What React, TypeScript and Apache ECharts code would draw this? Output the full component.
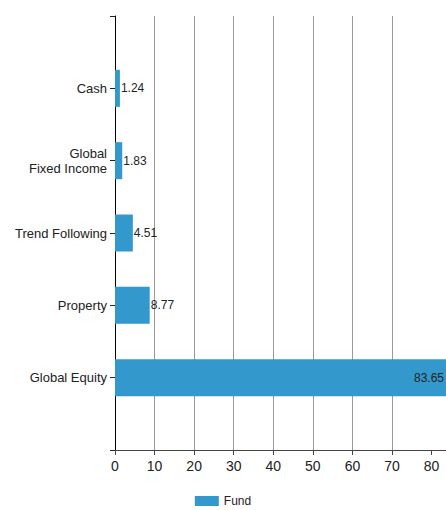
import React, { useEffect, useRef } from "react";
import * as echarts from "echarts";

const categories = ["", "Global Equity", "Property", "Trend Following", "Global\nFixed Income", "Cash", ""];
const fundValues: (number | string)[] = ["-", 83.65, 8.77, 4.51, 1.83, 1.24, "-"];
const xTicks = [0, 10, 20, 30, 40, 50, 60, 70, 80];
const seriesName = "Fund";

const FONT = "'Liberation Sans', Arial, sans-serif";

export default function App() {
  const ref = useRef<HTMLDivElement>(null);
  useEffect(() => {
    if (!ref.current) return;
    const chart = echarts.init(ref.current, undefined, { renderer: "svg" });
    const maxVal = Math.max(...(fundValues.filter((v) => typeof v === "number") as number[]));
    chart.setOption({
      animation: false,
      textStyle: { fontFamily: FONT },
      grid: { left: 115, right: 0, top: 16, bottom: 60, containLabel: false },
      legend: {
        data: [seriesName],
        left: "center",
        top: 494,
        padding: 0,
        itemWidth: 24,
        itemHeight: 10,
        itemGap: 10,
        icon: "rect",
        textStyle: { fontSize: 12, lineHeight: 14, color: "#222", fontFamily: FONT },
      },
      xAxis: {
        type: "value",
        min: 0,
        max: maxVal,
        interval: 10,
        axisLine: { show: true, lineStyle: { color: "#444", width: 1 } },
        axisTick: { show: true, length: 5, lineStyle: { color: "#444" }, customValues: xTicks },
        axisLabel: { fontSize: 14, color: "#222", margin: 9, fontFamily: FONT, customValues: xTicks },
        splitLine: { show: true, showMinLine: false, showMaxLine: false, lineStyle: { color: "#999", width: 1 } },
      },
      yAxis: {
        type: "category",
        data: categories,
        boundaryGap: false,
        axisLine: { show: true, lineStyle: { color: "#000", width: 1 } },
        axisTick: { show: true, length: 5, lineStyle: { color: "#222" } },
        axisLabel: { fontSize: 13, color: "#222", margin: 8, fontFamily: FONT, lineHeight: 15, interval: 0 },
        splitLine: { show: false },
      },
      series: [
        {
          name: seriesName,
          type: "bar",
          data: fundValues.map((v) =>
            typeof v === "number" && v === maxVal
              ? { value: v, label: { position: "insideRight", distance: 2 } }
              : v
          ),
          barWidth: 37,
          itemStyle: { color: "#3399cc" },
          label: {
            show: true,
            position: "right",
            distance: 1,
            fontSize: 12,
            color: "#222",
            fontFamily: FONT,
          },
        },
      ],
    });
    return () => chart.dispose();
  }, []);
  return (
    <div
      ref={ref}
      style={{ position: "absolute", left: 0, top: 0, width: 446, height: 510 }}
    />
  );
}
